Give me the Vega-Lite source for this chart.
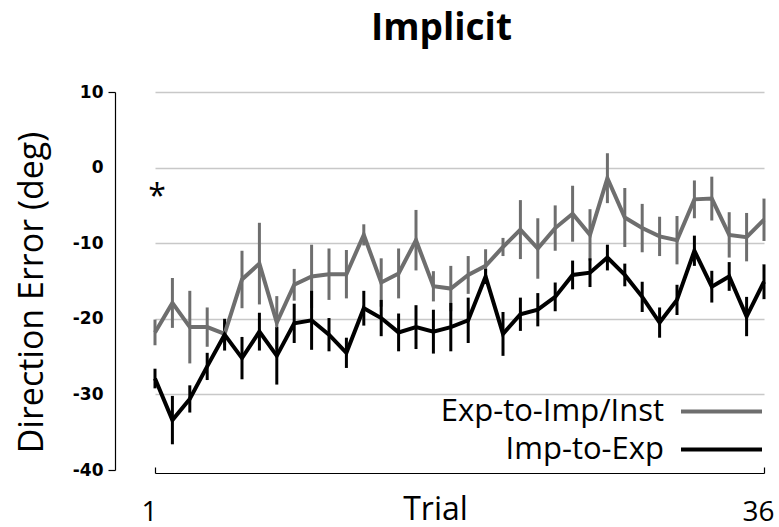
{
  "$schema": "https://vega.github.io/schema/vega-lite/v6.json",
  "autosize": "none",
  "width": 609,
  "height": 378,
  "padding": {"left": 155, "top": 92, "right": 15, "bottom": 57},
  "background": "white",
  "title": {"text": "Implicit", "font": "Open Sans", "fontSize": 37, "fontWeight": "bold", "anchor": "middle", "dx": -18, "offset": 35, "color": "black"},
  "config": {"view": {"stroke": null}},
  "datasets": {
    "main": [
      {"trial": 1, "group": "Exp-to-Imp/Inst", "value": -21.8, "err": 1.7},
      {"trial": 2, "group": "Exp-to-Imp/Inst", "value": -17.9, "err": 3.3},
      {"trial": 3, "group": "Exp-to-Imp/Inst", "value": -21.1, "err": 4.8},
      {"trial": 4, "group": "Exp-to-Imp/Inst", "value": -21.1, "err": 2.6},
      {"trial": 5, "group": "Exp-to-Imp/Inst", "value": -22.0, "err": 1.5},
      {"trial": 6, "group": "Exp-to-Imp/Inst", "value": -14.8, "err": 3.8},
      {"trial": 7, "group": "Exp-to-Imp/Inst", "value": -12.7, "err": 5.4},
      {"trial": 8, "group": "Exp-to-Imp/Inst", "value": -20.5, "err": 3.5},
      {"trial": 9, "group": "Exp-to-Imp/Inst", "value": -15.5, "err": 2.1},
      {"trial": 10, "group": "Exp-to-Imp/Inst", "value": -14.4, "err": 4.2},
      {"trial": 11, "group": "Exp-to-Imp/Inst", "value": -14.1, "err": 3.4},
      {"trial": 12, "group": "Exp-to-Imp/Inst", "value": -14.1, "err": 3.2},
      {"trial": 13, "group": "Exp-to-Imp/Inst", "value": -8.9, "err": 1.4},
      {"trial": 14, "group": "Exp-to-Imp/Inst", "value": -15.2, "err": 3.2},
      {"trial": 15, "group": "Exp-to-Imp/Inst", "value": -14.0, "err": 3.3},
      {"trial": 16, "group": "Exp-to-Imp/Inst", "value": -9.6, "err": 4.0},
      {"trial": 17, "group": "Exp-to-Imp/Inst", "value": -15.7, "err": 2.0},
      {"trial": 18, "group": "Exp-to-Imp/Inst", "value": -16.0, "err": 3.0},
      {"trial": 19, "group": "Exp-to-Imp/Inst", "value": -14.2, "err": 2.5},
      {"trial": 20, "group": "Exp-to-Imp/Inst", "value": -13.0, "err": 2.2},
      {"trial": 21, "group": "Exp-to-Imp/Inst", "value": -10.5, "err": 1.2},
      {"trial": 22, "group": "Exp-to-Imp/Inst", "value": -8.2, "err": 3.9},
      {"trial": 23, "group": "Exp-to-Imp/Inst", "value": -10.7, "err": 4.0},
      {"trial": 24, "group": "Exp-to-Imp/Inst", "value": -8.0, "err": 3.0},
      {"trial": 25, "group": "Exp-to-Imp/Inst", "value": -6.1, "err": 3.7},
      {"trial": 26, "group": "Exp-to-Imp/Inst", "value": -8.9, "err": 3.4},
      {"trial": 27, "group": "Exp-to-Imp/Inst", "value": -1.4, "err": 3.3},
      {"trial": 28, "group": "Exp-to-Imp/Inst", "value": -6.6, "err": 3.9},
      {"trial": 29, "group": "Exp-to-Imp/Inst", "value": -8.0, "err": 3.2},
      {"trial": 30, "group": "Exp-to-Imp/Inst", "value": -9.1, "err": 2.6},
      {"trial": 31, "group": "Exp-to-Imp/Inst", "value": -9.6, "err": 3.2},
      {"trial": 32, "group": "Exp-to-Imp/Inst", "value": -4.2, "err": 2.5},
      {"trial": 33, "group": "Exp-to-Imp/Inst", "value": -4.1, "err": 2.9},
      {"trial": 34, "group": "Exp-to-Imp/Inst", "value": -8.9, "err": 3.0},
      {"trial": 35, "group": "Exp-to-Imp/Inst", "value": -9.2, "err": 3.2},
      {"trial": 36, "group": "Exp-to-Imp/Inst", "value": -6.9, "err": 2.8},
      {"trial": 1, "group": "Imp-to-Exp", "value": -27.9, "err": 1.3},
      {"trial": 2, "group": "Imp-to-Exp", "value": -33.4, "err": 3.2},
      {"trial": 3, "group": "Imp-to-Exp", "value": -30.6, "err": 1.8},
      {"trial": 4, "group": "Imp-to-Exp", "value": -26.3, "err": 1.8},
      {"trial": 5, "group": "Imp-to-Exp", "value": -22.1, "err": 2.1},
      {"trial": 6, "group": "Imp-to-Exp", "value": -25.2, "err": 2.8},
      {"trial": 7, "group": "Imp-to-Exp", "value": -21.7, "err": 2.5},
      {"trial": 8, "group": "Imp-to-Exp", "value": -24.9, "err": 3.8},
      {"trial": 9, "group": "Imp-to-Exp", "value": -20.6, "err": 2.6},
      {"trial": 10, "group": "Imp-to-Exp", "value": -20.2, "err": 3.9},
      {"trial": 11, "group": "Imp-to-Exp", "value": -22.1, "err": 2.2},
      {"trial": 12, "group": "Imp-to-Exp", "value": -24.5, "err": 2.0},
      {"trial": 13, "group": "Imp-to-Exp", "value": -18.6, "err": 2.3},
      {"trial": 14, "group": "Imp-to-Exp", "value": -19.9, "err": 2.4},
      {"trial": 15, "group": "Imp-to-Exp", "value": -21.8, "err": 2.5},
      {"trial": 16, "group": "Imp-to-Exp", "value": -21.1, "err": 2.9},
      {"trial": 17, "group": "Imp-to-Exp", "value": -21.7, "err": 2.9},
      {"trial": 18, "group": "Imp-to-Exp", "value": -21.1, "err": 3.2},
      {"trial": 19, "group": "Imp-to-Exp", "value": -20.2, "err": 3.0},
      {"trial": 20, "group": "Imp-to-Exp", "value": -14.4, "err": 1.0},
      {"trial": 21, "group": "Imp-to-Exp", "value": -22.0, "err": 2.9},
      {"trial": 22, "group": "Imp-to-Exp", "value": -19.4, "err": 2.2},
      {"trial": 23, "group": "Imp-to-Exp", "value": -18.8, "err": 2.2},
      {"trial": 24, "group": "Imp-to-Exp", "value": -17.1, "err": 1.9},
      {"trial": 25, "group": "Imp-to-Exp", "value": -14.2, "err": 1.9},
      {"trial": 26, "group": "Imp-to-Exp", "value": -13.9, "err": 1.9},
      {"trial": 27, "group": "Imp-to-Exp", "value": -11.9, "err": 1.7},
      {"trial": 28, "group": "Imp-to-Exp", "value": -14.2, "err": 1.5},
      {"trial": 29, "group": "Imp-to-Exp", "value": -17.1, "err": 2.0},
      {"trial": 30, "group": "Imp-to-Exp", "value": -20.5, "err": 2.0},
      {"trial": 31, "group": "Imp-to-Exp", "value": -17.5, "err": 2.0},
      {"trial": 32, "group": "Imp-to-Exp", "value": -11.0, "err": 2.0},
      {"trial": 33, "group": "Imp-to-Exp", "value": -15.75, "err": 2.1},
      {"trial": 34, "group": "Imp-to-Exp", "value": -14.4, "err": 1.9},
      {"trial": 35, "group": "Imp-to-Exp", "value": -19.7, "err": 2.6},
      {"trial": 36, "group": "Imp-to-Exp", "value": -15.1, "err": 2.3}
    ],
    "notes": [{"trial": 1, "value": -3.2, "label": "*"}]
  },
  "layer": [
    {
      "data": {"name": "main"},
      "mark": {"type": "errorbar", "thickness": 3},
      "encoding": {
        "x": {"field": "trial", "type": "quantitative", "scale": {"domain": [1, 36], "nice": false, "zero": false},
          "axis": {"values": [1, 36], "title": "Trial", "grid": false, "offset": 3, "domainColor": "black", "domainWidth": 1.2,
            "tickColor": "black", "tickSize": -6, "tickWidth": 1.2, "labelFont": "Open Sans", "labelFontSize": 28, "labelColor": "black",
            "labelPadding": 31, "labelFlush": false, "labelOffset": -6, "titleFont": "Open Sans", "titleFontSize": 32, "titleFontWeight": "normal", "titleColor": "black",
            "titleX": 280, "titleY": 46, "titleBaseline": "alphabetic"}},
        "y": {"field": "value", "type": "quantitative", "scale": {"domain": [-40, 10], "nice": false, "zero": false},
          "axis": {"values": [10, 0, -10, -20, -30, -40], "labelExpr": "datum.value + ''", "title": "Direction Error (deg)", "offset": 40, "grid": true,
            "gridColor": "#c8c8c8", "gridWidth": 1.5, "gridOpacity": {"condition": {"test": "datum.value == -40", "value": 0}, "value": 1},
            "domainColor": "black", "domainWidth": 1.2, "tickColor": "black", "tickWidth": 1.2, "tickSize": 7,
            "tickOpacity": {"condition": {"test": "datum.value == 10 || datum.value == -40", "value": 1}, "value": 0},
            "labelFont": "DejaVu Sans", "labelFontWeight": "bold", "labelFontSize": 17, "labelColor": "black", "labelPadding": 5,
            "titleFont": "Open Sans", "titleFontSize": 34, "titleFontWeight": "normal", "titleColor": "black",
            "titleX": -83, "titleY": 200, "titleBaseline": "middle", "titleAlign": "center"}},
        "yError": {"field": "err"},
        "color": {"field": "group", "type": "nominal", "scale": {"domain": ["Exp-to-Imp/Inst", "Imp-to-Exp"], "range": ["#6e6e6e", "#000000"]},
          "legend": {"orient": "none", "legendX": 544, "legendY": 297, "title": null, "symbolType": "M-2,0H2", "symbolSize": 1640,
            "symbolStrokeWidth": 4, "symbolFillColor": "transparent", "labelFont": "Open Sans", "labelFontSize": 31, "labelColor": "black", "labelAlign": "right",
            "labelOffset": -80, "labelLimit": 400, "rowPadding": 0, "padding": 0}}
      }
    },
    {
      "data": {"name": "main"},
      "mark": {"type": "line", "strokeWidth": 4, "strokeJoin": "miter"},
      "encoding": {
        "x": {"field": "trial", "type": "quantitative"},
        "y": {"field": "value", "type": "quantitative"},
        "color": {"field": "group", "type": "nominal"}
      }
    },
    {
      "data": {"name": "notes"},
      "mark": {"type": "text", "font": "Open Sans", "fontSize": 32, "align": "center", "baseline": "middle", "dx": 2, "dy": 5, "color": "black"},
      "encoding": {
        "x": {"field": "trial", "type": "quantitative"},
        "y": {"field": "value", "type": "quantitative"},
        "text": {"field": "label"}
      }
    }
  ]
}
